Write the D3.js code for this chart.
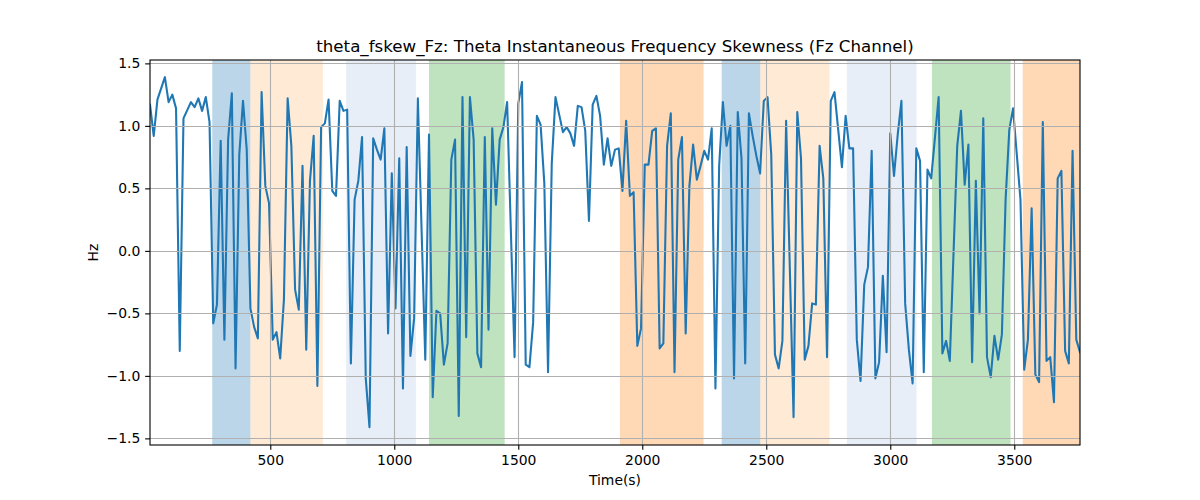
<!DOCTYPE html>
<html>
<head>
<meta charset="utf-8">
<script src="https://cdn.jsdelivr.net/npm/d3@7"></script>
<style>
  html, body { margin: 0; padding: 0; background: #fff; }
  svg { display: block; font-family: "DejaVu Sans", sans-serif; }
</style>
</head>
<body>
<svg id="chart" width="1200" height="500"></svg>
<script>
// ---- data ----
const times = [
  15,30,45,75,90,105,120,135,150,180,195,210,225,240,255,270,285,300,315,330,
  345,360,375,390,405,420,435,450,465,480,495,510,525,540,555,570,585,600,615,630,
  645,660,675,690,705,720,735,750,765,780,795,810,825,840,855,870,885,900,915,930,
  945,960,975,990,1005,1020,1035,1050,1065,1080,1095,1125,1140,1155,1170,1185,1200,1215,1230,1245,
  1260,1275,1290,1305,1320,1335,1350,1365,1380,1395,1410,1425,1440,1455,1485,1500,1515,1530,1545,1560,
  1575,1590,1605,1620,1635,1650,1665,1680,1695,1710,1725,1740,1755,1770,1785,1800,1815,1830,1845,1860,
  1875,1890,1905,1920,1935,1950,1965,1980,1995,2010,2025,2040,2055,2070,2085,2100,2115,2130,2145,2160,
  2175,2190,2205,2220,2235,2250,2265,2280,2295,2310,2325,2340,2355,2370,2385,2400,2415,2430,2445,2460,
  2475,2490,2505,2520,2535,2550,2565,2580,2610,2625,2640,2655,2670,2685,2700,2715,2730,2745,2760,2775,
  2805,2820,2835,2850,2865,2880,2895,2910,2925,2940,2955,2970,2985,3000,3015,3030,3045,3060,3075,3090,
  3105,3120,3135,3150,3165,3195,3210,3225,3240,3270,3285,3300,3315,3330,3345,3360,3375,3390,3405,3420,
  3435,3450,3465,3480,3495,3525,3540,3555,3570,3585,3600,3615,3630,3645,3660,3675,3690,3705,3720,3735,
  3750,3765
];
const skewValues = [
  1.17,0.92,1.21,1.39,1.19,1.25,1.14,-0.80,1.06,1.19,1.15,1.22,1.12,1.23,1.03,-0.58,-0.43,0.88,-0.71,0.89,
  1.26,-0.94,0.77,1.20,0.81,-0.46,-0.61,-0.70,1.27,0.52,0.38,-0.71,-0.65,-0.86,-0.39,1.22,0.84,-0.31,-0.47,0.68,
  -0.79,0.56,0.92,-1.08,0.99,1.02,1.21,0.48,0.44,1.20,1.12,1.13,-0.90,0.41,0.56,0.91,-1.02,-1.41,0.90,0.81,
  0.73,0.98,-0.66,0.62,-0.46,0.74,-1.10,0.83,-0.84,-0.54,1.22,-0.87,0.93,-1.17,-0.48,-0.50,-0.91,-0.74,0.73,0.89,
  -1.32,1.23,-0.69,1.23,0.89,-0.82,-0.93,0.91,-0.63,0.98,0.37,0.89,0.99,1.19,-0.85,1.18,1.35,-0.91,-0.93,-0.57,
  1.08,1.01,0.54,-0.97,0.70,1.23,1.09,0.95,0.99,0.94,0.84,1.16,1.15,0.96,0.24,1.17,1.24,1.08,0.69,0.90,
  0.68,0.81,0.82,0.48,1.04,0.44,0.47,-0.76,-0.62,0.69,0.69,0.96,0.98,-0.78,-0.74,0.84,1.10,-0.97,0.73,0.91,
  -0.66,0.52,0.85,0.57,0.68,0.80,0.73,0.98,-1.10,0.68,1.19,0.84,1.00,-1.02,1.11,0.74,-0.90,1.10,0.92,0.76,
  0.62,1.20,1.23,0.77,-0.83,-0.94,-0.72,1.04,-1.33,1.11,0.74,-0.87,-0.76,-0.42,-0.43,0.84,0.58,-0.85,1.20,1.27,
  0.67,1.08,0.82,0.82,-0.71,-1.04,-0.27,-0.13,0.80,-1.02,-0.89,-0.20,-0.81,0.94,0.60,0.93,1.20,-0.42,-0.79,-1.06,
  0.82,0.72,-0.97,0.65,0.58,1.23,-0.82,-0.72,-0.88,0.84,1.12,0.53,0.85,-0.89,0.56,-0.50,1.06,-0.85,-1.01,-0.68,
  -0.87,-0.67,0.41,0.97,1.14,0.41,-0.95,-0.71,0.34,-0.99,-1.05,1.03,-0.88,-0.85,-1.21,0.58,0.64,-0.80,-0.90,0.80,
  -0.71,-0.81
];
// shaded intervals (start, end, colour index)
const spanStarts = [266, 420, 806, 1140, 1910, 2320, 2476, 2825, 3168, 3534];
const spanEnds   = [420, 712, 1087, 1445, 2247, 2476, 2755, 3106, 3485, 3800];
const spanColors = ["#1f77b4", "#ffbb78", "#aec7e8", "#2ca02c", "#ff7f0e",
                    "#1f77b4", "#ffbb78", "#aec7e8", "#2ca02c", "#ff7f0e"];
const xTicks = [500, 1000, 1500, 2000, 2500, 3000, 3500];
const yTicks = [-1.5, -1.0, -0.5, 0.0, 0.5, 1.0, 1.5];
const titleText = "theta_fskew_Fz: Theta Instantaneous Frequency Skewness (Fz Channel)";
const xLabelText = "Time(s)";
const yLabelText = "Hz";

// ---- layout ----
const L = 150, R = 1080, T = 60, B = 445;
const svg = d3.select("#chart");
svg.append("rect").attr("width", 1200).attr("height", 500).attr("fill", "#fff");

const x = d3.scaleLinear().domain([15, 3765]).range([L, R]);
const y = d3.scaleLinear().domain([-1.553, 1.527]).range([B, T]);

svg.append("defs").append("clipPath").attr("id", "clip")
  .append("rect").attr("x", L).attr("y", T).attr("width", R - L).attr("height", B - T);

const plot = svg.append("g").attr("clip-path", "url(#clip)");

// spans
plot.selectAll("rect.span").data(spanStarts.map((s, i) => ({s, e: spanEnds[i], c: spanColors[i]})))
  .enter().append("rect").attr("class", "span")
  .attr("x", d => x(d.s)).attr("width", d => x(d.e) - x(d.s))
  .attr("y", T).attr("height", B - T)
  .attr("fill", d => d.c).attr("fill-opacity", 0.3);

// grid
const grid = svg.append("g");
xTicks.forEach(t => {
  grid.append("line").attr("x1", Math.round(x(t)) + 0.5).attr("x2", Math.round(x(t)) + 0.5)
    .attr("y1", T).attr("y2", B).attr("stroke", "#b0b0b0").attr("stroke-width", 1.1);
});
yTicks.forEach(t => {
  grid.append("line").attr("y1", Math.round(y(t)) + 0.5).attr("y2", Math.round(y(t)) + 0.5)
    .attr("x1", L).attr("x2", R).attr("stroke", "#b0b0b0").attr("stroke-width", 1.1);
});

// line
const pts = times.map((t, i) => [t, skewValues[i]]);
plot.append("path").datum(pts)
  .attr("fill", "none").attr("stroke", "#1f77b4").attr("stroke-width", 2.08)
  .attr("stroke-linejoin", "round").attr("stroke-linecap", "square")
  .attr("d", d3.line().x(d => x(d[0])).y(d => y(d[1])));

// axes
const fmtY = v => d3.format(".1f")(v).replace("-", "\u2212");
const xAxis = d3.axisBottom(x).tickValues(xTicks).tickSize(4.86).tickPadding(4.86).tickFormat(d3.format("d"));
const yAxis = d3.axisLeft(y).tickValues(yTicks).tickSize(4.86).tickPadding(4.86).tickFormat(fmtY);

const gx = svg.append("g").attr("transform", `translate(0,${B})`).call(xAxis);
const gy = svg.append("g").attr("transform", `translate(${L},0)`).call(yAxis);
[gx, gy].forEach(g => {
  g.select(".domain").remove();
  g.selectAll(".tick line").attr("stroke", "#000").attr("stroke-width", 1.1);
  g.selectAll(".tick text").attr("fill", "#000").attr("font-size", "13.9px")
    .attr("font-family", "DejaVu Sans, sans-serif");
});

// spines
svg.append("rect").attr("x", L).attr("y", T).attr("width", R - L).attr("height", B - T)
  .attr("fill", "none").attr("stroke", "#000").attr("stroke-width", 1.1);

// labels
svg.append("text").attr("x", (L + R) / 2).attr("y", 52).attr("text-anchor", "middle")
  .attr("font-size", "16.67px").attr("fill", "#000").text(titleText);
svg.append("text").attr("x", (L + R) / 2).attr("y", 485).attr("text-anchor", "middle")
  .attr("font-size", "13.9px").attr("fill", "#000").text(xLabelText);
svg.append("text").attr("transform", `translate(98,${(T + B) / 2}) rotate(-90)`)
  .attr("text-anchor", "middle").attr("font-size", "13.9px").attr("fill", "#000").text(yLabelText);
</script>
</body>
</html>
